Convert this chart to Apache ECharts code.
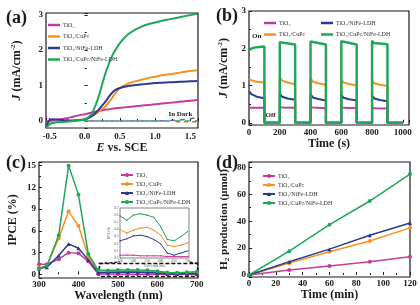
<!DOCTYPE html>
<html>
<head>
<meta charset="utf-8">
<script src="https://cdn.jsdelivr.net/npm/echarts@6/dist/echarts.min.js"></script>
<style>
html, body { margin: 0; padding: 0; background: #fff; }
#chart { width: 420px; height: 305px; }
</style>
</head>
<body>
<div id="chart"></div>
<script>
var sampleNames = ['TiO₂', 'TiO₂/CuPc', 'TiO₂/NiFe-LDH', 'TiO₂/CuPc/NiFe-LDH'];
var colors = ['#C63A9E', '#F7921E', '#2B3A94', '#22A75A'];

// (a) J-E curves
var potential = [-0.55, -0.5, -0.45, -0.4, -0.3, -0.2, -0.1, 0, 0.05, 0.1, 0.15, 0.2, 0.25, 0.3, 0.35, 0.4, 0.45, 0.5, 0.6, 0.7, 0.8, 0.9, 1.0, 1.1, 1.2, 1.3, 1.4, 1.5, 1.6];
var jTiO2 = [-0.02, 0.0, 0.02, 0.03, 0.06, 0.1, 0.15, 0.19, 0.21, 0.24, 0.26, 0.28, 0.3, 0.32, 0.33, 0.35, 0.36, 0.37, 0.39, 0.41, 0.43, 0.45, 0.47, 0.49, 0.51, 0.53, 0.55, 0.57, 0.59];
var jCuPc = [-0.15, -0.08, -0.05, -0.03, -0.01, 0.0, 0.02, 0.05, 0.08, 0.13, 0.19, 0.27, 0.34, 0.42, 0.55, 0.68, 0.82, 0.93, 1.04, 1.11, 1.16, 1.21, 1.25, 1.29, 1.32, 1.35, 1.38, 1.41, 1.43];
var jNiFe = [-0.18, 0.03, 0.05, 0.04, 0.02, 0.01, 0.02, 0.04, 0.08, 0.14, 0.22, 0.32, 0.44, 0.56, 0.7, 0.82, 0.89, 0.93, 0.98, 1.01, 1.03, 1.05, 1.07, 1.08, 1.09, 1.1, 1.11, 1.12, 1.13];
var jAll = [-0.2, -0.1, -0.05, -0.04, -0.03, -0.01, 0.01, 0.04, 0.1, 0.2, 0.42, 0.7, 1.05, 1.38, 1.65, 1.88, 2.05, 2.2, 2.42, 2.56, 2.66, 2.73, 2.78, 2.83, 2.87, 2.91, 2.95, 2.99, 3.03];
var darkPotential = [0, 0.5, 1.0, 1.3, 1.5, 1.6];
var darkNiFe = [0, 0, 0.0, 0.02, 0.06, 0.1];
var darkAll = [0, 0, 0, 0, 0, 0];
var darkCuPc = [-0.01, -0.01, -0.01, -0.02, -0.02, -0.02];

// (b) chopped light, [time s, J]
var chopTiO2 = [[0,0.4],[100,0.4],[100,0],[200,0],[200,0.43],[215,0.41],[300,0.4],[300,0],[400,0],[400,0.42],[415,0.41],[500,0.39],[500,0],[600,0],[600,0.42],[615,0.4],[700,0.39],[700,0],[800,0],[800,0.41],[815,0.39],[900,0.38],[900,0],[1000,0]];
var chopCuPc = [[0,1.18],[15,1.14],[50,1.1],[100,1.08],[100,0],[200,0],[200,1.22],[215,1.13],[250,1.08],[300,1.03],[300,0],[400,0],[400,1.2],[415,1.1],[450,1.06],[500,1.02],[500,0],[600,0],[600,1.16],[615,1.08],[650,1.04],[700,1.0],[700,0],[800,0],[800,1.13],[815,1.06],[850,1.02],[900,0.99],[900,0],[1000,0]];
var chopNiFe = [[0,0.85],[15,0.77],[50,0.7],[100,0.66],[100,0],[200,0],[200,0.78],[215,0.7],[250,0.65],[300,0.62],[300,0],[400,0],[400,0.76],[415,0.68],[450,0.64],[500,0.6],[500,0],[600,0],[600,0.75],[615,0.67],[650,0.63],[700,0.6],[700,0],[800,0],[800,0.73],[815,0.65],[850,0.61],[900,0.58],[900,0],[1000,0]];
var chopAll = [[0,1.95],[20,2.0],[50,2.03],[100,2.05],[100,0],[200,0],[200,2.16],[210,2.12],[300,2.1],[300,0],[400,0],[400,2.18],[410,2.14],[500,2.1],[500,0],[600,0],[600,2.19],[610,2.14],[700,2.1],[700,0],[800,0],[800,2.2],[810,2.14],[900,2.11],[900,0],[1000,0]];

// (c) IPCE
var wlUV = [300, 320, 350, 375, 400, 425];
var ipceUV = [
  [1.4, 1.4, 2.1, 3.0, 2.9, 1.8],
  [0.9, 1.2, 5.0, 8.7, 6.7, 2.5],
  [0.8, 1.0, 2.6, 4.2, 3.6, 2.0],
  [0.8, 1.2, 5.4, 15.0, 11.0, 2.8]
];
var wlVis = [450, 475, 500, 525, 550, 575, 600, 625, 650, 675, 700];
var ipceVis = [
  [0.04, 0.04, 0.04, 0.03, 0.03, 0.03, 0.03, 0.02, 0.02, 0.02, 0.02],
  [0.40, 0.35, 0.39, 0.42, 0.43, 0.39, 0.32, 0.18, 0.16, 0.18, 0.21],
  [0.24, 0.27, 0.31, 0.32, 0.30, 0.26, 0.20, 0.07, 0.04, 0.07, 0.10],
  [0.59, 0.53, 0.60, 0.62, 0.60, 0.57, 0.44, 0.26, 0.24, 0.30, 0.37]
];

// (d) H2 production
var h2Time = [0, 30, 60, 90, 120];
var h2 = [
  [0, 3.7, 6.6, 9.8, 13.5],
  [0, 8.8, 17.3, 25.3, 35.0],
  [0, 9.8, 19.2, 29.5, 38.6],
  [0, 17.7, 37.4, 55.0, 75.0]
];
var markSymbols = ['circle', 'circle', 'triangle', 'circle'];

var serif = 'Liberation Serif, DejaVu Serif, serif';
var ink = '#1a1a1a';

function pairs(xs, ys) {
  return xs.map(function (x, i) { return [x, ys[i]]; });
}

function valAxis(idx, o) {
  var ax = {
    type: 'value',
    gridIndex: idx,
    nameLocation: 'middle',
    nameTextStyle: { fontFamily: serif, fontWeight: 'bold', fontSize: 12, color: ink },
    axisLine: { show: false },
    axisTick: { show: true, inside: true, length: 3, lineStyle: { color: ink, width: 1 } },
    minorTick: { show: true, splitNumber: 2, length: 2, lineStyle: { color: ink } },
    splitLine: { show: false },
    axisLabel: { fontFamily: serif, fontWeight: 'bold', fontSize: 9, color: ink, margin: 3 }
  };
  for (var k in o) {
    if (typeof o[k] === 'object' && ax[k] && !Array.isArray(o[k])) {
      ax[k] = Object.assign({}, ax[k], o[k]);
    } else {
      ax[k] = o[k];
    }
  }
  return ax;
}

var nameRich = {
  i: { fontFamily: serif, fontWeight: 'bold', fontStyle: 'italic', fontSize: 12, color: ink },
  sup: { fontFamily: serif, fontWeight: 'bold', fontSize: 7, color: ink, verticalAlign: 'top', lineHeight: 14 },
  sub: { fontFamily: serif, fontWeight: 'bold', fontSize: 7, color: ink, verticalAlign: 'bottom', lineHeight: 14 }
};

function legendFmt(name) { return name.split(':')[1]; }

function legendBox(left, top, names, plain) {
  var lg = {
    orient: 'vertical',
    left: left,
    top: top,
    itemWidth: 12,
    itemHeight: 5,
    itemGap: 3,
    padding: 0,
    selectedMode: false,
    formatter: legendFmt,
    textStyle: { fontFamily: serif, fontSize: 6, color: '#333', padding: [0, 0, 0, -2] },
    data: names
  };
  if (plain) {
    lg.icon = 'rect';
    lg.itemHeight = 2.5;
    lg.itemGap = 5.5;
  }
  return lg;
}

var series = [];
var jLists = [jTiO2, jCuPc, jNiFe, jAll];
sampleNames.forEach(function (n, i) {
  series.push({
    name: 'a:' + n, type: 'line', xAxisIndex: 0, yAxisIndex: 0,
    data: pairs(potential, jLists[i]), smooth: 0.3, showSymbol: false,
    lineStyle: { color: colors[i], width: 2 }, itemStyle: { color: colors[i] }, z: 3
  });
});
series.push({
  name: 'dark1', type: 'line', xAxisIndex: 0, yAxisIndex: 0, data: pairs(darkPotential, darkAll),
  showSymbol: false, lineStyle: { color: colors[3], width: 1.5, type: [5, 5] }, z: 2
});
series.push({
  name: 'dark2', type: 'line', xAxisIndex: 0, yAxisIndex: 0, data: pairs(darkPotential, darkNiFe),
  showSymbol: false, smooth: 0.3, lineStyle: { color: '#5A64C8', width: 1.5, type: [5, 5], dashOffset: 5 }, z: 2,
  markPoint: {
    symbol: 'circle', symbolSize: 1, itemStyle: { color: 'rgba(0,0,0,0)' },
    label: { show: true, position: 'inside', formatter: 'In Dark', fontFamily: serif, fontWeight: 'bold', fontSize: 7, color: ink },
    data: [{ coord: [1.36, 0.18] }]
  }
});
series.push({
  name: 'dark3', type: 'line', xAxisIndex: 0, yAxisIndex: 0, data: pairs(darkPotential.slice(3), darkCuPc.slice(3)),
  showSymbol: false, lineStyle: { color: '#F0602A', width: 1.5, type: [4, 4] }, z: 2
});

var chops = [chopTiO2, chopCuPc, chopNiFe, chopAll];
sampleNames.forEach(function (n, i) {
  var s = {
    name: 'b:' + n, type: 'line', xAxisIndex: 1, yAxisIndex: 1,
    data: chops[i], showSymbol: false,
    lineStyle: { color: colors[i], width: i === 3 ? 2.5 : 2 }, itemStyle: { color: colors[i] }, z: 3 + i
  };
  if (i === 3) {
    s.markPoint = {
      symbol: 'circle', symbolSize: 1, itemStyle: { color: 'rgba(0,0,0,0)' },
      label: { show: true, position: 'inside', fontFamily: serif, fontWeight: 'bold', fontSize: 7, color: ink },
      data: [
        { coord: [50, 2.32], label: { formatter: 'On' } },
        { coord: [140, 0.2], label: { formatter: 'Off' } }
      ]
    };
  }
  series.push(s);
});

sampleNames.forEach(function (n, i) {
  var s = {
    name: 'c:' + n, type: 'line', xAxisIndex: 2, yAxisIndex: 2,
    data: pairs(wlUV.concat(wlVis), ipceUV[i].concat(ipceVis[i])),
    symbol: markSymbols[i], symbolSize: 4, showSymbol: true,
    lineStyle: { color: colors[i], width: 1.5 }, itemStyle: { color: colors[i] }, z: 3 + i
  };
  if (i === 0) {
    s.markArea = {
      silent: true,
      itemStyle: { color: 'rgba(0,0,0,0)', borderColor: '#111', borderWidth: 1.5, borderType: [4, 2] },
      data: [[{ coord: [453, 1.5] }, { coord: [702, -0.3] }]]
    };
  }
  series.push(s);
});

sampleNames.forEach(function (n, i) {
  series.push({
    name: 'i:' + n, type: 'line', xAxisIndex: 4, yAxisIndex: 4,
    data: pairs(wlVis, ipceVis[i]), symbol: markSymbols[i], symbolSize: 1.5,
    lineStyle: { color: colors[i], width: 1 }, itemStyle: { color: colors[i] }, z: 10
  });
});

sampleNames.forEach(function (n, i) {
  series.push({
    name: 'd:' + n, type: 'line', xAxisIndex: 3, yAxisIndex: 3,
    data: pairs(h2Time, h2[i]), symbol: markSymbols[i], symbolSize: 4,
    lineStyle: { color: colors[i], width: 1.5 }, itemStyle: { color: colors[i] }, z: 3 + i
  });
});

var gridStyle = { show: true, borderColor: ink, borderWidth: 1.2, backgroundColor: 'rgba(0,0,0,0)' };
var plainNum = function (v) { return String(v); };

var option = {
  animation: false,
  backgroundColor: '#fff',
  grid: [
    Object.assign({ left: 46, top: 13, width: 152, height: 115 }, gridStyle),
    Object.assign({ left: 249, top: 11, width: 160, height: 114 }, gridStyle),
    Object.assign({ left: 39, top: 162, width: 159, height: 116 }, gridStyle),
    Object.assign({ left: 249, top: 162, width: 161, height: 115 }, gridStyle),
    { show: true, left: 120, top: 208, width: 69, height: 50, borderColor: '#666', borderWidth: 0.8, backgroundColor: '#fff', z: 5 }
  ],
  xAxis: [
    valAxis(0, { min: -0.55, max: 1.61, splitNumber: 4, name: '{i|E} vs. SCE', nameGap: 12,
      nameTextStyle: { rich: nameRich },
      axisLabel: { showMinLabel: false, showMaxLabel: false, margin: 4, formatter: function (v) { return v.toFixed(1); } } }),
    valAxis(1, { min: 0, max: 1040, interval: 200, name: 'Time (s)', nameGap: 10,
      axisLabel: { showMaxLabel: false, margin: 3, formatter: plainNum } }),
    valAxis(2, { min: 300, max: 703, interval: 100, name: 'Wavelength (nm)', nameGap: 8,
      axisLabel: { showMaxLabel: false, margin: 2, formatter: plainNum } }),
    valAxis(3, { min: 0, max: 120, interval: 20, name: 'Time (min)', nameGap: 9,
      axisLabel: { margin: 2, formatter: plainNum } }),
    valAxis(4, { min: 450, max: 705, interval: 50, name: 'Wavelength (nm)', nameGap: 4,
      nameTextStyle: { fontSize: 3, fontWeight: 'normal', color: '#666' },
      axisTick: { length: 1.5, lineStyle: { color: '#666', width: 0.5 } }, minorTick: { show: false },
      axisLabel: { fontSize: 3.5, fontWeight: 'normal', color: '#555', margin: 1.5, showMaxLabel: false, formatter: plainNum } })
  ],
  yAxis: [
    valAxis(0, { min: -0.2, max: 3.05, splitNumber: 3, name: '{i|J} (mA/cm{sup|-2})', nameGap: 22,
      nameTextStyle: { rich: nameRich },
      axisLabel: { showMinLabel: false, showMaxLabel: false } }),
    valAxis(1, { min: -0.06, max: 3, splitNumber: 3, name: '{i|J} (mA/cm{sup|-2})', nameGap: 18,
      nameTextStyle: { rich: nameRich },
      axisLabel: { showMinLabel: false } }),
    valAxis(2, { min: -0.5, max: 15.5, splitNumber: 5, name: 'IPCE (%)', nameGap: 20,
      axisLabel: { showMinLabel: false, showMaxLabel: false } }),
    valAxis(3, { min: -1.5, max: 84, splitNumber: 4, name: 'H{sub|2} production (μmol)', nameGap: 18,
      nameTextStyle: { fontSize: 11, rich: nameRich },
      axisLabel: { showMinLabel: false, showMaxLabel: false } }),
    valAxis(4, { min: 0, max: 0.7, interval: 0.1, name: 'IPCE (%)', nameGap: 8,
      nameTextStyle: { fontSize: 3, fontWeight: 'normal', color: '#666' },
      axisTick: { length: 1.5, lineStyle: { color: '#666', width: 0.5 } }, minorTick: { show: false },
      axisLabel: { fontSize: 3.5, fontWeight: 'normal', color: '#555', margin: 1.5, formatter: function (v) { return v.toFixed(1); } } })
  ],
  legend: [
    legendBox(48, 22, sampleNames.map(function (n) { return 'a:' + n; }), true),
    legendBox(264, 20, ['b:' + sampleNames[0], 'b:' + sampleNames[1]], true),
    legendBox(321, 20, ['b:' + sampleNames[2], 'b:' + sampleNames[3]], true),
    legendBox(120, 172, sampleNames.map(function (n) { return 'c:' + n; })),
    legendBox(262, 173, sampleNames.map(function (n) { return 'd:' + n; }))
  ],
  graphic: [
    { type: 'text', left: 6, top: 9, style: { text: '(a)', font: 'bold 18px ' + serif, fill: ink } },
    { type: 'text', left: 216, top: 7, style: { text: '(b)', font: 'bold 18px ' + serif, fill: ink } },
    { type: 'text', left: 6, top: 154, style: { text: '(c)', font: 'bold 18px ' + serif, fill: ink } },
    { type: 'text', left: 216, top: 154, style: { text: '(d)', font: 'bold 18px ' + serif, fill: ink } }
  ],
  series: series
};

var chart = echarts.init(document.getElementById('chart'), null, { renderer: 'canvas' });
chart.setOption(option);

// dashed connectors from the zoom box to the inset
var boxL = chart.convertToPixel({ xAxisIndex: 2, yAxisIndex: 2 }, [453, 1.5]);
var boxR = chart.convertToPixel({ xAxisIndex: 2, yAxisIndex: 2 }, [702, 1.5]);
var insL = chart.convertToPixel({ xAxisIndex: 4, yAxisIndex: 4 }, [450, 0]);
var insR = chart.convertToPixel({ xAxisIndex: 4, yAxisIndex: 4 }, [705, 0]);
var dash = { stroke: '#111', lineWidth: 1.3, lineDash: [3, 2] };
chart.setOption({
  graphic: option.graphic.concat([
    { type: 'line', shape: { x1: boxL[0], y1: boxL[1], x2: insL[0], y2: insL[1] + 4 }, style: dash, z: 20 },
    { type: 'line', shape: { x1: boxR[0], y1: boxR[1], x2: insR[0], y2: insR[1] + 4 }, style: dash, z: 20 }
  ])
});
</script>
</body>
</html>
